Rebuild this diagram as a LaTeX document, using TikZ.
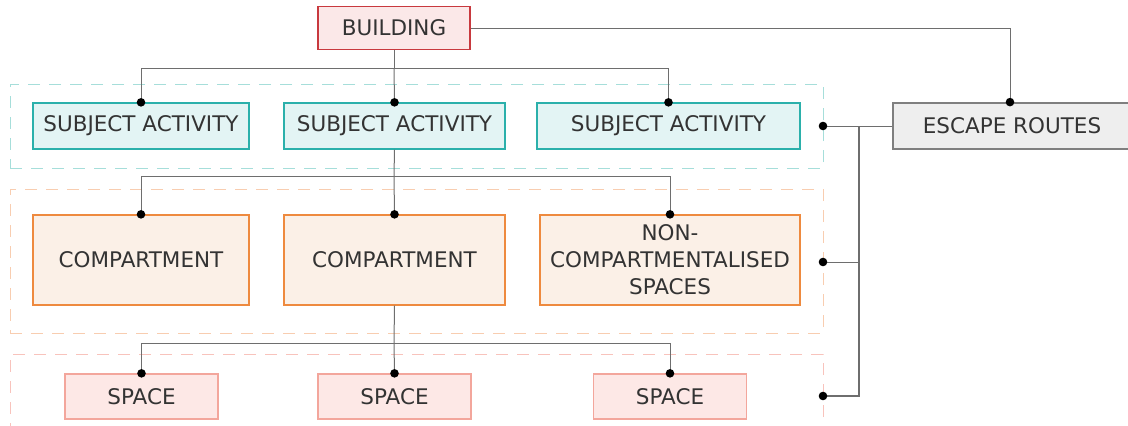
\documentclass[tikz,border=0pt]{standalone}
\usepackage{fontspec}
\setmainfont{DejaVu Sans}
\definecolor{txt}{HTML}{333333}
\definecolor{bldfill}{HTML}{FBE8E8}
\definecolor{bldline}{HTML}{C8393E}
\definecolor{safill}{HTML}{E3F4F4}
\definecolor{saline}{HTML}{2BB0AB}
\definecolor{cpfill}{HTML}{FBF0E7}
\definecolor{cpline}{HTML}{EE8A3F}
\definecolor{spfill}{HTML}{FDE8E6}
\definecolor{spline}{HTML}{F3A69C}
\definecolor{esfill}{HTML}{EEEEEE}
\definecolor{esline}{HTML}{7F7F7F}
\definecolor{g1line}{HTML}{A6DEDA}
\definecolor{g2line}{HTML}{F8CDB0}
\definecolor{g3line}{HTML}{F8C3BC}
\definecolor{wire}{HTML}{6E6E6E}
\begin{document}
\begin{tikzpicture}[x=1pt,y=-1pt,
  box/.style={draw, line width=1.3pt, inner sep=0pt, align=center, text=txt,
    font=\fontsize{21.5}{27}\selectfont},
  bldbox/.style={box, fill=bldfill, draw=bldline, minimum width=152pt, minimum height=43pt},
  sabox/.style={box, fill=safill, draw=saline, minimum height=46pt},
  cpbox/.style={box, fill=cpfill, draw=cpline, minimum height=90pt},
  spbox/.style={box, fill=spfill, draw=spline, minimum width=153pt, minimum height=45pt},
  esbox/.style={box, fill=esfill, draw=esline, line width=1.8pt, minimum height=46pt},
  grp/.style={draw, line width=1pt, dash pattern=on 12pt off 9pt, inner sep=0pt},
  conn/.style={draw=wire, line width=1pt},
  bus/.style={draw=wire, line width=1.6pt},
  dot/.style={fill=black}
]
\useasboundingbox (0,0) rectangle (1128,426);

% dashed level frames
\node[grp, draw=g1line, minimum width=813pt, minimum height=84pt] (g1) at (416.5,126) {};
\node[grp, draw=g2line, minimum width=813pt, minimum height=144pt] (g2) at (416.5,261) {};
\node[grp, draw=g3line, minimum width=813pt, minimum height=90pt] (g3) at (416.5,399) {};

% boxes
\node[bldbox] (bld) at (394,28) {BUILDING};
\node[sabox, minimum width=216pt] (sa1) at (141,126) {SUBJECT ACTIVITY};
\node[sabox, minimum width=221pt] (sa2) at (394.5,126) {SUBJECT ACTIVITY};
\node[sabox, minimum width=263pt] (sa3) at (668.5,126) {SUBJECT ACTIVITY};
\node[cpbox, minimum width=216pt] (cp1) at (141,260) {COMPARTMENT};
\node[cpbox, minimum width=221pt] (cp2) at (394.5,260) {COMPARTMENT};
\node[cpbox, minimum width=260pt] (cp3) at (670,260) {NON-\\COMPARTMENTALISED\\SPACES};
\node[spbox] (sp1) at (141.5,396.5) {SPACE};
\node[spbox] (sp2) at (394.5,396.5) {SPACE};
\node[spbox] (sp3) at (670,396.5) {SPACE};
\node[esbox, minimum width=238pt] (esc) at (1012,126) {ESCAPE ROUTES};

% junctions
\coordinate (j1) at (394,68);
\coordinate (j2) at (394,176);
\coordinate (j3) at (394,343);
\coordinate (e1) at (1010,28);
\coordinate (d1) at (823,126);
\coordinate (d2) at (823,262);
\coordinate (d3) at (823,396);
\coordinate (b1) at (859,126);

% building to activities
\draw[conn] (bld.south) -- (j1);
\draw[conn] (j1) -| (sa1.north);
\draw[conn] (j1) -- (sa2.north);
\draw[conn] (j1) -| (sa3.north);
% activity to compartments
\draw[conn] (sa2.south) -- (j2);
\draw[conn] (j2) -| (cp1.north);
\draw[conn] (j2) -- (cp2.north);
\draw[conn] (j2) -| (cp3.north);
% compartment to spaces
\draw[conn] (cp2.south) -- (j3);
\draw[conn] (j3) -| (sp1.north);
\draw[conn] (j3) -- (sp2.north);
\draw[conn] (j3) -| (sp3.north);
% building to escape routes
\draw[conn] (bld.east) -- (e1) -- (esc.north -| e1);
% escape routes to levels
\draw[conn] (esc.west) -- (d1);
\draw[bus] (b1) |- (d3);
\draw[conn] (b1 |- d2) -- (d2);

% dots
\foreach \p in {sa1.north, sa3.north, cp1.north, cp3.north, sp1.north, sp3.north, sa2.north, cp2.north, sp2.north}
  \fill[dot] (\p) circle (4.3pt);
\fill[dot] (esc.north -| e1) circle (4.3pt);
\foreach \p in {d1,d2,d3} \fill[dot] (\p) circle (4.3pt);
\end{tikzpicture}
\end{document}
